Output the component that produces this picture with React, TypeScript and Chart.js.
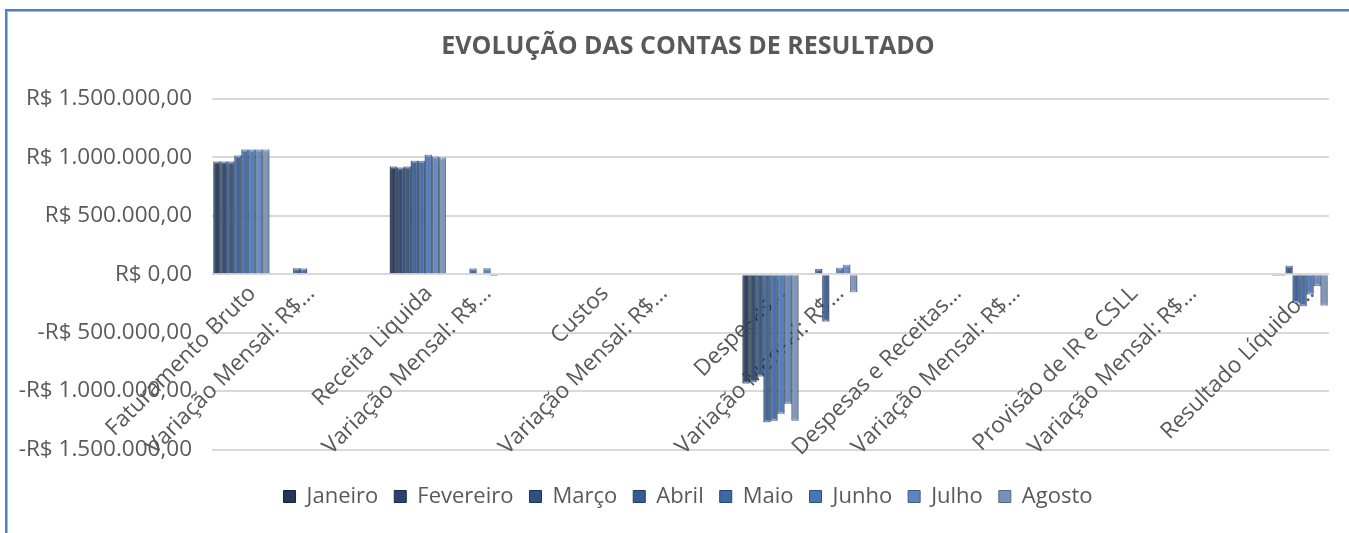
import { useEffect, useRef } from 'react';
import { Chart, registerables } from 'chart.js';

Chart.register(...registerables);

const FONT = '"Open Sans", sans-serif';
const TEXT = '#595959';

const months = ['Janeiro', 'Fevereiro', 'Março', 'Abril', 'Maio', 'Junho', 'Julho', 'Agosto'];

const categories = [
  'Faturamento Bruto',
  'Variação Mensal: R$…',
  '',
  'Receita Liquida',
  'Variação Mensal: R$…',
  '',
  'Custos',
  'Variação Mensal: R$…',
  '',
  'Despesas…',
  'Variação Mensal: R$…',
  '',
  'Despesas e Receitas…',
  'Variação Mensal: R$…',
  '',
  'Provisão de IR e CSLL',
  'Variação Mensal: R$…',
  '',
  'Resultado Líquido…',
];

// values per account row, one value per month (Jan..Aug)
const faturamentoBruto = [965000, 965000, 965000, 1017000, 1067000, 1067000, 1067000, 1067000];
const varFaturamento = [0, 0, 0, 52000, 50000, 0, 0, 0];
const receitaLiquida = [922000, 913000, 922000, 971000, 971000, 1023000, 1008000, 1000000];
const varReceita = [0, -9000, 9000, 49000, 0, 52000, -15000, -8000];
const custos = [0, 0, 0, 0, 0, 0, 0, 0];
const varCustos = [0, 0, 0, 0, 0, 0, 0, 0];
const despesas = [-935000, -925000, -876000, -1267000, -1253000, -1195000, -1109000, -1253000];
const varDespesas = [0, 10000, 45000, -405000, 0, 55000, 81000, -153000];
const despesasReceitas = [0, 0, 0, 0, 0, 0, 0, 0];
const varDespesasReceitas = [0, 0, 0, 0, 0, 0, 0, 0];
const provisaoIR = [0, 0, 0, 0, 0, 0, 0, 0];
const varProvisaoIR = [0, 0, 0, 0, 0, 0, 0, 0];
const resultadoLiquido = [-13000, -12000, 72000, -245000, -273000, -173000, -100000, -268000];

const rows: (number[] | null)[] = [
  faturamentoBruto, varFaturamento, null,
  receitaLiquida, varReceita, null,
  custos, varCustos, null,
  despesas, varDespesas, null,
  despesasReceitas, varDespesasReceitas, null,
  provisaoIR, varProvisaoIR, null,
  resultadoLiquido,
];

const yMin = -1500000;
const yMax = 1500000;
const yStep = 500000;

const fills = ['#21375a', '#28446d', '#2f5081', '#365c94', '#3c68a6', '#4877b8', '#5d85bd', '#7690b7'];
const edges = ['#14233b', '#192c48', '#1e3455', '#233c62', '#27446f', '#304f7c', '#3f5b84', '#546988'];

function brl(v: number) {
  const s = Math.round(Math.abs(v)).toString().replace(/\B(?=(\d{3})+(?!\d))/g, '.');
  return (v < 0 ? '-' : '') + 'R$ ' + s + ',00';
}

const bevelPlugin = {
  id: 'bevel',
  beforeDatasetsDraw(chart: any) {
    const ctx = chart.ctx;
    ctx.save();
    ctx.shadowColor = 'rgba(0,0,0,0.28)';
    ctx.shadowBlur = 6;
    ctx.shadowOffsetX = 0;
    ctx.shadowOffsetY = 4;
  },
  afterDatasetsDraw(chart: any) {
    const ctx = chart.ctx;
    ctx.restore();
    chart.data.datasets.forEach((_ds: any, di: number) => {
      const meta = chart.getDatasetMeta(di);
      meta.data.forEach((bar: any) => {
        const { x, y, base, width } = bar.getProps(['x', 'y', 'base', 'width'], true);
        if (x == null || isNaN(y)) return;
        const top = Math.min(y, base);
        const h = Math.abs(base - y);
        if (h < 1) return;
        const left = x - width / 2;
        const g = ctx.createLinearGradient(left, 0, left + width, 0);
        g.addColorStop(0, 'rgba(0,0,0,0.35)');
        g.addColorStop(0.3, 'rgba(255,255,255,0.10)');
        g.addColorStop(0.65, 'rgba(255,255,255,0.04)');
        g.addColorStop(1, 'rgba(0,0,0,0.35)');
        ctx.save();
        ctx.fillStyle = g;
        ctx.fillRect(left, top, width, h);
        ctx.fillStyle = 'rgba(170,200,240,0.55)';
        const capY = y < base ? y : y - 2;
        ctx.fillRect(left + 1, capY, width - 2, Math.min(2, h));
        ctx.restore();
      });
    });
  },
};

export default function App() {
  const ref = useRef<HTMLCanvasElement>(null);

  useEffect(() => {
    const canvas = ref.current;
    if (!canvas) return;
    const datasets = months.map((m, i) => ({
      label: m,
      data: rows.map((r) => (r ? r[i] : null)),
      backgroundColor: fills[i],
      borderColor: edges[i],
      borderWidth: 1,
      barPercentage: 1,
      categoryPercentage: 0.952,
    }));
    const chart = new Chart(canvas, {
      type: 'bar',
      data: { labels: categories, datasets },
      plugins: [bevelPlugin],
      options: {
        responsive: false,
        animation: false,
        devicePixelRatio: 1,
        layout: { padding: { left: 10, right: 10, top: 0, bottom: 15.5 } },
        plugins: {
          title: {
            display: true,
            text: 'EVOLUÇÃO DAS CONTAS DE RESULTADO',
            color: TEXT,
            font: { family: FONT, size: 25, weight: 'bold' },
            padding: { top: 32, bottom: 37 },
          },
          legend: {
            position: 'bottom',
            title: { display: true, text: '', padding: { top: 18.8, bottom: 0 }, font: { size: 1 } },
            labels: {
              boxWidth: 12,
              boxHeight: 12,
              padding: 16,
              color: TEXT,
              font: { family: FONT, size: 22 },
            },
          },
          tooltip: { enabled: false },
        },
        scales: {
          x: {
            position: { y: 0 } as any,
            z: 1,
            grid: { display: false },
            border: { display: false },
            ticks: {
              autoSkip: false,
              maxRotation: 45,
              minRotation: 45,
              color: TEXT,
              padding: -2,
              labelOffset: 11,
              font: { family: FONT, size: 22.5 },
            },
          },
          y: {
            min: yMin,
            max: yMax,
            grid: { color: '#d9d9d9', lineWidth: 2, drawTicks: false },
            border: { display: false },
            ticks: {
              stepSize: yStep,
              padding: 20,
              color: TEXT,
              font: { family: FONT, size: 22.5 },
              callback: (v: any) => brl(Number(v)),
            },
            afterFit: (s: any) => {
              s.width = 202;
            },
          },
          yRight: {
            type: 'linear',
            position: 'right',
            grid: { display: false },
            border: { display: false },
            ticks: { display: false },
            afterFit: (s: any) => {
              s.width = 37;
            },
          },
        },
      } as any,
    });
    return () => chart.destroy();
  }, []);

  return (
    <div
      style={{
        position: 'absolute',
        left: 0,
        top: 0,
        width: 1349,
        height: 533,
        overflow: 'hidden',
        background: '#ffffff',
      }}
    >
      <div
        style={{
          position: 'absolute',
          left: 5,
          top: 9,
          width: 1420,
          height: 620,
          borderTop: '2px solid #4f7fc0',
          borderLeft: '2px solid #4f7fc0',
          boxShadow: 'inset 1px 1px 0 #9cbde6',
          boxSizing: 'border-box',
        }}
      />
      <canvas
        ref={ref}
        width={1376}
        height={533}
        style={{ position: 'absolute', left: 0, top: 0, width: 1376, height: 533 }}
      />
    </div>
  );
}
